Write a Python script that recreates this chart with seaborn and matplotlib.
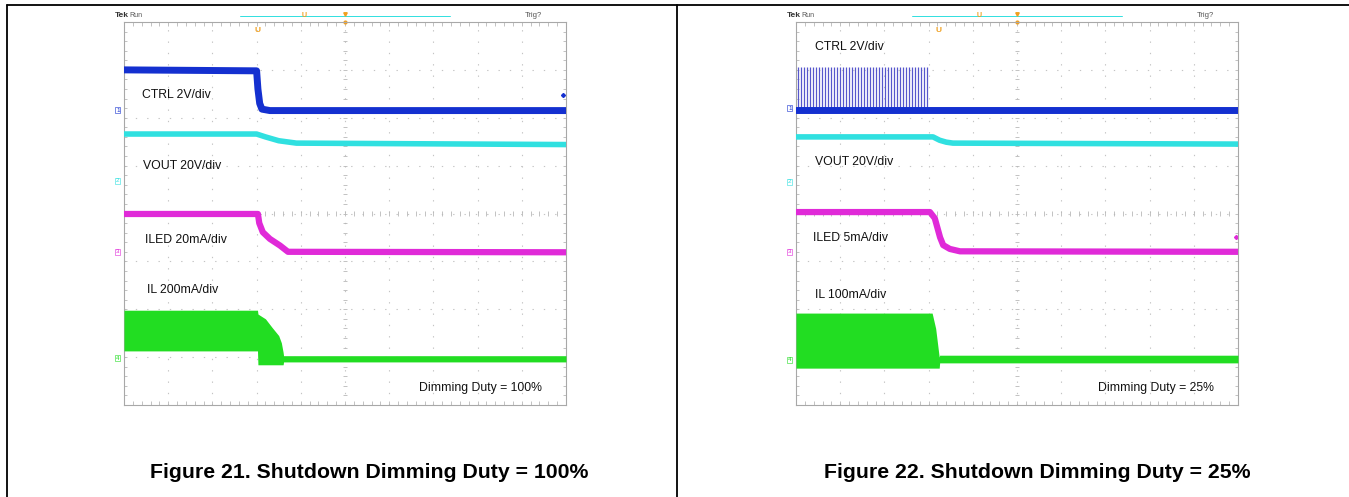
import numpy as np
import matplotlib
matplotlib.use('Agg')
import matplotlib.pyplot as plt
from matplotlib.lines import Line2D
import seaborn as sns

# scope screen = 10 x 8 divisions, everything below is in divisions
# ---- Figure 21: shutdown, dimming duty 100% ----
f21_ctrl_t = [0.0, 3.0, 3.03, 3.07, 3.12, 3.3, 10.0]
f21_ctrl_v = [7.0, 6.98, 6.6, 6.3, 6.18, 6.15, 6.15]
f21_vout_t = [0.0, 3.0, 3.2, 3.5, 3.9, 10.0]
f21_vout_v = [5.66, 5.66, 5.6, 5.52, 5.47, 5.44]
f21_iled_t = [0.0, 3.03, 3.06, 3.14, 3.3, 3.53, 3.71, 10.0]
f21_iled_v = [3.99, 3.99, 3.8, 3.61, 3.47, 3.33, 3.2, 3.19]
f21_il_t = [0.0, 3.02, 3.03, 3.2, 3.35, 3.5, 3.56, 3.6, 3.61, 10.0]
f21_il_hi = [1.98, 1.98, 1.9, 1.8, 1.62, 1.45, 1.3, 1.1, 1.03, 1.03]
f21_il_lo = [1.13, 1.13, 0.84, 0.84, 0.84, 0.84, 0.84, 0.84, 0.9, 0.9]

# ---- Figure 22: shutdown, dimming duty 25% ----
f22_ctrl_t = [0.0, 10.0]
f22_ctrl_v = [6.16, 6.16]
f22_pulse_t = [0.04, 0.11, 0.18, 0.25, 0.31, 0.38, 0.45, 0.52, 0.59, 0.65,
               0.72, 0.79, 0.86, 0.93, 0.99, 1.06, 1.13, 1.20, 1.27, 1.33,
               1.40, 1.47, 1.54, 1.61, 1.67, 1.74, 1.81, 1.88, 1.95, 2.01,
               2.08, 2.15, 2.22, 2.29, 2.35, 2.42, 2.49, 2.56, 2.63, 2.69,
               2.76, 2.83, 2.90, 2.97]
f22_pulse_hi = 7.05
f22_vout_t = [0.0, 3.1, 3.25, 3.4, 3.55, 10.0]
f22_vout_v = [5.6, 5.6, 5.53, 5.49, 5.47, 5.45]
f22_iled_t = [0.0, 3.03, 3.14, 3.26, 3.33, 3.48, 3.71, 10.0]
f22_iled_v = [4.03, 4.03, 3.9, 3.5, 3.34, 3.26, 3.21, 3.2]
f22_il_t = [0.0, 3.08, 3.16, 3.24, 3.25, 10.0]
f22_il_hi = [1.92, 1.92, 1.6, 1.0, 1.04, 1.04]
f22_il_lo = [0.77, 0.77, 0.77, 0.77, 0.88, 0.88]

f21_labels = ["CTRL 2V/div", "VOUT 20V/div", "ILED 20mA/div", "IL 200mA/div"]
f21_label_pos = [(0.4, 6.48), (0.43, 5.0), (0.48, 3.45), (0.52, 2.4)]
f22_labels = ["CTRL 2V/div", "VOUT 20V/div", "ILED 5mA/div", "IL 100mA/div"]
f22_label_pos = [(0.43, 7.48), (0.43, 5.08), (0.38, 3.49), (0.43, 2.3)]
f21_ch_ref = [6.16, 4.68, 3.2, 0.98]
f22_ch_ref = [6.2, 4.66, 3.2, 0.94]
duty_text = ["Dimming Duty = 100%", "Dimming Duty = 25%"]
captions = ["Figure 21. Shutdown Dimming Duty = 100%",
            "Figure 22. Shutdown Dimming Duty = 25%"]

BLUE = '#1430d0'
CYAN = '#30e0e0'
MAGENTA = '#e02ad8'
GREEN = '#22dd22'
ORANGE = '#f0a020'
CH_COLORS = [BLUE, CYAN, MAGENTA, GREEN]

sns.set_theme(style="white")
plt.rcParams['font.family'] = ['Liberation Sans', 'DejaVu Sans']

W, H = 1349, 497
fig = plt.figure(figsize=(W / 100, H / 100), dpi=100)


def px_box(x0, y0, x1, y1):
    return [x0 / W, 1 - y1 / H, (x1 - x0) / W, (y1 - y0) / H]


def draw_screen(ax):
    ax.set_xlim(0, 10)
    ax.set_ylim(0, 8)
    ax.set_xticks([])
    ax.set_yticks([])
    ax.set_xlabel("")
    ax.set_ylabel("")
    for s in ax.spines.values():
        s.set_color('#a8a8a8')
        s.set_linewidth(0.8)
    for gx in range(1, 10):
        ax.axvline(gx, color='#c4c4c4', lw=0.8, ls=(0, (1.2, 9)), zorder=0)
    for gy in range(1, 8):
        ax.axhline(gy, color='#c4c4c4', lw=0.8, ls=(0, (1.2, 9)), zorder=0)
    mx = np.arange(0, 10.01, 0.2)
    my = np.arange(0, 8.01, 0.2)
    kw = dict(color='#b8b8b8', lw=0.6, zorder=0)
    ax.vlines(mx, 4 - 0.05, 4 + 0.05, **kw)
    ax.vlines(mx, 0, 0.08, **kw)
    ax.vlines(mx, 8 - 0.08, 8, **kw)
    ax.hlines(my, 5 - 0.05, 5 + 0.05, **kw)
    ax.hlines(my, 0, 0.07, **kw)
    ax.hlines(my, 10 - 0.07, 10, **kw)


def trace(ax, t, v, color, lw):
    sns.lineplot(x=t, y=v, ax=ax, color=color, linewidth=lw, estimator=None,
                 sort=False, legend=False, zorder=3)


def decorate(ax, labels, label_pos, ch_ref, duty, marker_x, trig_x):
    for txt, (lx, ly) in zip(labels, label_pos):
        ax.text(lx, ly, txt, fontsize=8.8, color='#111111',
                ha='left', va='center', zorder=5)
    ax.text(9.45, 0.36, duty, fontsize=8.8, color='#111111',
            ha='right', va='center', zorder=5)
    for i, (ref, c) in enumerate(zip(ch_ref, CH_COLORS)):
        ax.text(-0.14, ref, str(i + 1), fontsize=4.5, color=c, ha='center',
                va='center', clip_on=False,
                bbox=dict(boxstyle='square,pad=0.1', fc='white', ec=c, lw=0.4))
    ax.text(-0.2, 8.14, "Tek", fontsize=6, fontweight='bold', color='#333333',
            ha='left', va='center', clip_on=False)
    ax.text(0.12, 8.14, "Run", fontsize=5, color='#555555', ha='left',
            va='center', clip_on=False)
    ax.text(9.07, 8.14, "Trig?", fontsize=5.5, color='#555555', ha='left',
            va='center', clip_on=False)
    ax.plot([2.62, 7.38], [8.13, 8.13], color=CYAN, lw=0.7, clip_on=False)
    ax.text(marker_x, 8.13, "U", fontsize=5, fontweight='bold', color=ORANGE,
            ha='center', va='center', clip_on=False)
    ax.plot([5.0], [8.17], marker='v', ms=2.5, color=ORANGE, clip_on=False)
    ax.plot([5.0], [8.0], marker='o', ms=2, color=ORANGE, clip_on=False)
    ax.text(trig_x, 7.83, "U", fontsize=6, fontweight='bold', color=ORANGE,
            ha='center', va='center')


# ---- left screen ----
ax1 = fig.add_axes(px_box(124, 22, 566, 405))
trace(ax1, f21_ctrl_t, f21_ctrl_v, BLUE, 5)
trace(ax1, f21_vout_t, f21_vout_v, CYAN, 4)
trace(ax1, f21_iled_t, f21_iled_v, MAGENTA, 4.5)
ax1.fill_between(f21_il_t, f21_il_lo, f21_il_hi, color=GREEN, lw=0, zorder=3)
draw_screen(ax1)
decorate(ax1, f21_labels, f21_label_pos, f21_ch_ref, duty_text[0], 4.07, 3.03)
ax1.plot([9.93], [6.48], marker='D', ms=2, color=BLUE)

# ---- right screen ----
ax2 = fig.add_axes(px_box(796, 22, 1238, 405))
ax2.vlines(f22_pulse_t, f22_ctrl_v[0], f22_pulse_hi, color='#5656cc', lw=0.9,
           zorder=2)
trace(ax2, f22_ctrl_t, f22_ctrl_v, BLUE, 5)
trace(ax2, f22_vout_t, f22_vout_v, CYAN, 4)
trace(ax2, f22_iled_t, f22_iled_v, MAGENTA, 4.5)
ax2.fill_between(f22_il_t, f22_il_lo, f22_il_hi, color=GREEN, lw=0, zorder=3)
draw_screen(ax2)
decorate(ax2, f22_labels, f22_label_pos, f22_ch_ref, duty_text[1], 4.14, 3.23)
ax2.plot([9.95], [3.51], marker='D', ms=2, color=MAGENTA)

# ---- table frame and captions ----
frame = dict(color='black', lw=1.3, transform=fig.transFigure)
fig.add_artist(Line2D([6.5 / W, 1.0], [1 - 4.5 / H, 1 - 4.5 / H], **frame))
fig.add_artist(Line2D([6.5 / W, 6.5 / W], [0, 1 - 4.5 / H], **frame))
fig.add_artist(Line2D([677 / W, 677 / W], [0, 1 - 4.5 / H], **frame))

fig.text(369 / W, 1 - 472 / H, captions[0], ha='center', va='center',
         fontsize=15.3, fontweight='bold', color='black')
fig.text(1037 / W, 1 - 472 / H, captions[1], ha='center', va='center',
         fontsize=15.3, fontweight='bold', color='black')

fig.savefig("out.png", dpi=100)
